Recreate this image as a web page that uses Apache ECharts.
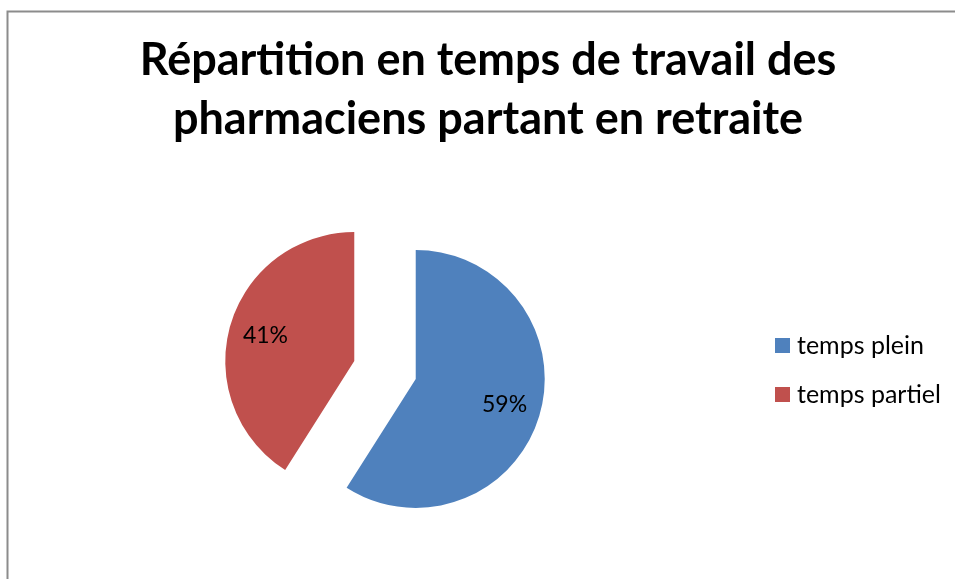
<!DOCTYPE html>
<html>
<head>
<meta charset="utf-8">
<script src="https://cdn.jsdelivr.net/npm/echarts@6/dist/echarts.min.js"></script>
<style>
  html, body { margin: 0; padding: 0; background: #fff; }
  #chart { width: 955px; height: 579px; }
</style>
</head>
<body>
<div id="chart"></div>
<script>
// Work-time split of pharmacists retiring
const categories = ['temps plein', 'temps partiel'];
const shares = [59, 41];
const colors = ['#4F81BD', '#C0504D'];
const titleText = 'Répartition en temps de travail des\npharmaciens partant en retraite';

const FONT = 'Lato, "Open Sans", sans-serif';

const pieData = categories.map((name, i) => ({
  name: name,
  value: shares[i],
  selected: true,
  itemStyle: { color: colors[i] }
}));

const chart = echarts.init(document.getElementById('chart'), null, { renderer: 'canvas' });

chart.setOption({
  backgroundColor: '#ffffff',
  animation: false,
  title: {
    text: titleText,
    left: 488,
    top: 31,
    padding: 0,
    textAlign: 'center',
    textStyle: {
      fontFamily: FONT,
      fontWeight: 'bold',
      fontSize: 45,
      lineHeight: 59,
      color: '#000'
    }
  },
  legend: {
    orient: 'vertical',
    left: 775,
    top: 333,
    padding: 0,
    itemWidth: 15,
    itemHeight: 15,
    itemGap: 24,
    icon: 'rect',
    selectedMode: false,
    data: categories,
    textStyle: { fontFamily: FONT, fontSize: 25, lineHeight: 25, color: '#000', padding: [0, 0, 0, 2] }
  },
  graphic: [{
    type: 'rect',
    shape: { x: 7.5, y: 11.5, width: 1000, height: 700 },
    style: { fill: 'none', stroke: '#8c8c8c', lineWidth: 2 },
    silent: true
  }],
  series: [
    {
      type: 'pie',
      center: [385, 370],
      radius: [0, 129],
      startAngle: 90,
      clockwise: true,
      selectedMode: 'multiple',
      selectedOffset: 32,
      label: { show: false },
      labelLine: { show: false },
      emphasis: { disabled: true },
      silent: true,
      data: pieData
    },
    {
      // transparent ring carrying the percentage labels
      type: 'pie',
      center: [385, 370],
      radius: [50, 129],
      startAngle: 90,
      clockwise: true,
      selectedMode: 'multiple',
      selectedOffset: 32,
      silent: true,
      emphasis: { disabled: true },
      itemStyle: { color: 'rgba(0,0,0,0)' },
      label: {
        show: true,
        position: 'inside',
        formatter: p => p.value + '%',
        fontFamily: FONT,
        fontSize: 23,
        color: '#000'
      },
      labelLine: { show: false },
      data: categories.map((name, i) => ({ name: name, value: shares[i], selected: true }))
    }
  ]
});
</script>
</body>
</html>
